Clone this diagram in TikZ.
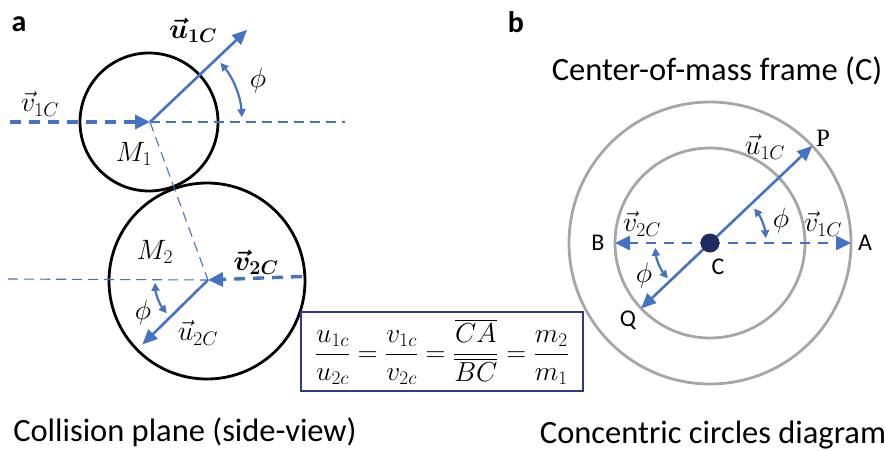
\RequirePackage{fix-cm}
\documentclass[tikz,border=0pt]{standalone}
\usepackage{amsmath,bm}
\usepackage{fontspec}
\setmainfont{Carlito}
\newfontfamily\serifP{Liberation Serif}
\usetikzlibrary{arrows.meta,calc}
\definecolor{vblue}{HTML}{4472C4}
\definecolor{dotnavy}{HTML}{1F2A60}
\definecolor{ringgray}{HTML}{A6A6A6}
\definecolor{boxnavy}{HTML}{2E3A87}
\begin{document}
\begin{tikzpicture}[x=1pt,y=1pt,
  vecarrow/.style={vblue, line width=2.6pt, -{Triangle[length=15pt,width=13pt]}},
  thickdash/.style={vblue, line width=3.4pt, dash pattern=on 11pt off 8pt, -{Triangle[length=15pt,width=14pt]}},
  thindash/.style={vblue, line width=1.1pt, dash pattern=on 10pt off 6pt},
  anglearc/.style={vblue, line width=2.2pt, {Triangle[length=8pt,width=8pt]}-{Triangle[length=8pt,width=8pt]}},
  ball/.style={line width=2.8pt, black},
  ring/.style={line width=2.8pt, ringgray},
  mlabel/.style={font=\fontsize{28}{32}\selectfont, inner sep=0pt},
  plabel/.style={font=\fontsize{24}{28}\selectfont, inner sep=0pt},
  caption/.style={font=\fontsize{32.5}{38}\selectfont, inner sep=0pt},
  panel/.style={font=\fontsize{30}{36}\selectfont\bfseries, inner sep=0pt},
]
\useasboundingbox (0,0) rectangle (885,-450);

% ---------- panel a ----------
\node[panel] (la) at (19,-24) {a};
\coordinate (O1) at (150,-122);
\coordinate (O2) at (208,-280);
\draw[ball] (149,-122) circle[radius=69];
\draw[ball] (207,-281) circle[radius=98];

\coordinate (v1s) at (10,-122);
\coordinate (h1e) at (345,-122);
\coordinate (h2s) at (8,-279);
\coordinate (v2s) at (302,-276.5);
\coordinate (u1e) at ($(O1)+(43.5:134)$);
\coordinate (u2e) at ($(O2)+(224.5:92)$);

\draw[thindash] (O1) -- (h1e);
\draw[thindash] (O1) -- (O2);
\draw[thindash] (h2s) -- (O2);
\draw[thickdash] (v1s) -- (O1);
\draw[thickdash] (v2s) -- (O2);
\draw[vecarrow] (O1) -- (u1e);
\draw[vecarrow] (O2) -- (u2e);
\draw[anglearc] ($(O1)+(3:92)$) arc[start angle=3, end angle=40, radius=92];
\draw[anglearc] ($(O2)+(183:53)$) arc[start angle=183, end angle=219, radius=53];

\node[mlabel] (lu1a) at (193,-30) {$\bm{\vec{u}_{1C}}$};
\node[mlabel] (lphia) at (258,-80) {$\phi$};
\node[mlabel] (lv1a) at (40,-104) {$\vec{v}_{1C}$};
\node[mlabel] (lM1) at (134,-154) {$M_1$};
\node[mlabel] (lM2) at (155,-252) {$M_2$};
\node[mlabel] (lv2a) at (256,-262) {$\bm{\vec{v}_{2C}}$};
\node[mlabel] (lphib) at (143,-312) {$\phi$};
\node[mlabel] (lu2a) at (198,-333) {$\vec{u}_{2C}$};

\node[draw=boxnavy, line width=1.3pt, fill=white, minimum width=282pt, minimum height=79pt,
      inner sep=0pt, font=\fontsize{27.5}{32}\selectfont] (box) at (442,-351.5)
  {$\dfrac{u_{1c}}{u_{2c}}=\dfrac{v_{1c}}{v_{2c}}=\dfrac{\overline{CA}}{\overline{BC}}=\dfrac{m_2}{m_1}$};

\node[caption] (capa) at (185,-432) {Collision plane (side-view)};

% ---------- panel b ----------
\node[panel] (lb) at (516,-22) {b};
\node[caption] (title) at (717,-71) {Center-of-mass frame (C)};
\coordinate (C) at (710,-243);
\draw[ring] (C) circle[radius=141];
\draw[ring] (C) circle[radius=95];
\coordinate (A) at ($(C)+(141,0)$);
\coordinate (B) at ($(C)+(-95,0)$);
\coordinate (P) at ($(C)+(43.5:141)$);
\coordinate (Q) at ($(C)+(223.5:95)$);
\draw[thickdash, line width=2.8pt, dash pattern=on 10pt off 8pt] (C) -- (A);
\draw[thickdash, line width=2.8pt, dash pattern=on 10pt off 8pt] (C) -- (B);
\draw[vecarrow] (C) -- (P);
\draw[vecarrow] (C) -- (Q);
\draw[anglearc] ($(C)+(5:56)$) arc[start angle=5, end angle=38, radius=56];
\draw[anglearc] ($(C)+(185:55)$) arc[start angle=185, end angle=220, radius=55];
\fill[dotnavy] (C) circle[radius=9.5];

\node[plabel, font=\fontsize{25}{30}\selectfont\serifP] (lP) at (823,-138) {P};
\node[plabel] (lA) at (865,-243) {A};
\node[plabel] (lB) at (598,-243) {B};
\node[plabel] (lC) at (718,-267) {C};
\node[plabel] (lQ) at (628,-320) {Q};
\node[mlabel] (lu1b) at (765,-147) {$\vec{u}_{1C}$};
\node[mlabel] (lv2b) at (642,-224) {$\vec{v}_{2C}$};
\node[mlabel] (lv1b) at (823,-224) {$\vec{v}_{1C}$};
\node[mlabel] (lphic) at (781,-220) {$\phi$};
\node[mlabel] (lphid) at (644,-275) {$\phi$};
\node[caption] (capb) at (713,-435) {Concentric circles diagram};
\end{tikzpicture}
\end{document}
